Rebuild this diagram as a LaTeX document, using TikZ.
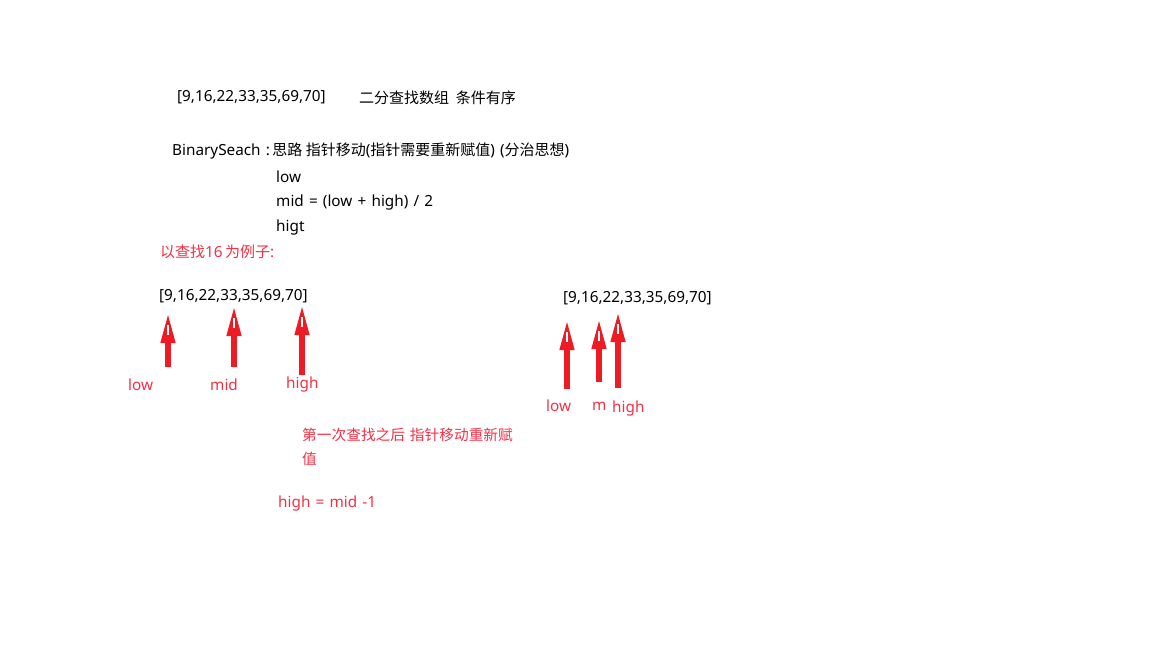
\documentclass[tikz,border=0pt]{standalone}
\usepackage{fontspec}
\setmainfont{Noto Sans}[WordSpace=1.3]
\newfontfamily\cjk{Noto Sans CJK SC}[Scale=0.98]
\usetikzlibrary{arrows.meta}
\definecolor{penred}{RGB}{237,28,36}
\definecolor{notered}{RGB}{244,48,68}

\begin{document}
\begin{tikzpicture}[x=1pt, y=-1pt, every node/.style={font=\fontsize{15.3}{18}\selectfont, anchor=west, inner sep=0pt},
	pointer/.style={penred, line width=6.5pt, -{Triangle[length=32pt 0 0, width=13pt 0 0]}},
	note/.style={text=notered}]
	\useasboundingbox (0,0) rectangle (1152,648);
	\node (arr) at (177,97) {[9,16,22,33,35,69,70]};
	\node (title) at (359,98) {\cjk 二分查找数组\ \ 条件有序};
	\node (idea) at (172,151) {BinarySeach :\,{\cjk 思路 指针移动}({\cjk 指针需要重新赋值}) ({\cjk 分治思想})};
	\node (vlow) at (276,177) {low};
	\node (vmid) at (276,203) {mid = (low + high) / 2};
	\node (vhigh) at (276,228) {higt};
	\node[note] (example) at (160,252) {{\cjk 以查找}16\,{\cjk 为例子}:};
	\node (arrA) at (159,296) {[9,16,22,33,35,69,70]};
	\node[note] (lowA) at (128,385) {low};
	\node[note] (midA) at (210,385) {mid};
	\node[note] (highA) at (286,385) {high};
	\coordinate (lowAt) at (168,367); \coordinate (lowAh) at (168,311);
	\coordinate (midAt) at (234,367); \coordinate (midAh) at (234,304);
	\coordinate (highAt) at (302,375); \coordinate (highAh) at (302,303);
	\draw[pointer] (lowAt) -- (lowAh);
	\draw[pointer] (midAt) -- (midAh);
	\draw[pointer] (highAt) -- (highAh);
	\node (arrB) at (563,298) {[9,16,22,33,35,69,70]};
	\node[note] (lowB) at (546,406) {low};
	\node[note] (midB) at (592,406) {m};
	\node[note] (highB) at (612,409) {high};
	\coordinate (lowBt) at (567,389); \coordinate (lowBh) at (567,318);
	\coordinate (midBt) at (599,382); \coordinate (midBh) at (599,317);
	\coordinate (highBt) at (618,388); \coordinate (highBh) at (618,310);
	\draw[pointer] (lowBt) -- (lowBh);
	\draw[pointer] (midBt) -- (midBh);
	\draw[pointer] (highBt) -- (highBh);
	\foreach \p in {lowAh,midAh,highAh,lowBh,midBh,highBh}
		\draw[white, line width=1.5pt] ([yshift=-14pt]\p) -- ([yshift=-24pt]\p);
	\node[note, align=left, text width=230pt, anchor=north west, font=\cjk\fontsize{15}{18}\selectfont] (after) at (302,428) {第一次查找之后 指针移动重新赋\\[6pt]值};
	\node[note] (rule) at (278,504) {high = mid -1};
\end{tikzpicture}
\end{document}
